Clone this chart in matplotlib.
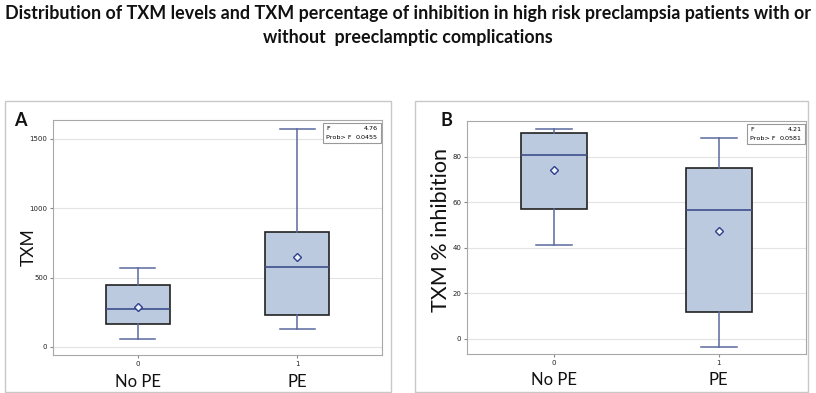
import matplotlib.pyplot as plt
from matplotlib.patches import Rectangle

title = ("Distribution of TXM levels and TXM percentage of inhibition in high risk preclampsia patients with or\n"
         "without  preeclamptic complications")
groups = ["0", "1"]
group_names = ["No PE", "PE"]

# panel A: TXM
txm_low = [55, 127]
txm_q1 = [163, 231]
txm_med = [276, 577]
txm_q3 = [445, 831]
txm_high = [572, 1574]
txm_mean = [286, 649]

# panel B: TXM % inhibition
inh_low = [41.2, -3.4]
inh_q1 = [57.1, 12.0]
inh_med = [81.0, 56.8]
inh_q3 = [90.7, 75.3]
inh_high = [92.4, 88.2]
inh_mean = [74.3, 47.6]

W, H = 816, 393
big_font = 'Lato'
fig = plt.figure(figsize=(W / 100, H / 100), dpi=100)
fig.text(0.5, 1 - 25 / H, title, ha='center', va='center', fontsize=12.9,
         family=big_font, fontweight='bold', linespacing=1.5, color='#111111')


def px(x0, y0, x1, y1):
    return [x0 / W, 1 - y1 / H, (x1 - x0) / W, (y1 - y0) / H]


def panel(frame, box, letter, lx, ly, ylabel, ylab_pos, ylab_size, lo, q1, med, q3, hi, mean,
          ylim, yticks, stat_f, stat_p):
    fig.patches.append(Rectangle((frame[0] / W, 1 - frame[3] / H),
                                 (frame[2] - frame[0]) / W, (frame[3] - frame[1]) / H,
                                 transform=fig.transFigure, fill=False,
                                 edgecolor='#c8c8c8', linewidth=1.0))
    ax = fig.add_axes(px(*box))
    stats = []
    for i in range(len(groups)):
        stats.append(dict(whislo=lo[i], q1=q1[i], med=med[i], q3=q3[i],
                          whishi=hi[i], mean=mean[i], fliers=[]))
    ax.bxp(stats, positions=[0, 1], widths=0.4, showmeans=True, patch_artist=True,
           boxprops=dict(facecolor='#bccadf', edgecolor='#222222', linewidth=1.2),
           medianprops=dict(color='#3d4f8c', linewidth=1.2),
           whiskerprops=dict(color='#5a6a9c', linewidth=1.1),
           capprops=dict(color='#5a6a9c', linewidth=1.1),
           capwidths=0.22,
           meanprops=dict(marker='D', markersize=4.5, markerfacecolor='#eef2fa',
                          markeredgecolor='#2d3f8f', markeredgewidth=1.0))
    ax.set_xlim(-0.53, 1.53)
    ax.set_ylim(*ylim)
    ax.set_yticks(yticks)
    ax.set_xticks([0, 1])
    ax.set_xticklabels(groups)
    ax.tick_params(labelsize=5, length=2.5, pad=1.5, color='#888888', labelcolor='#222222')
    ax.yaxis.grid(True, color='#e3e3e3', linewidth=0.8)
    ax.set_axisbelow(True)
    for s in ax.spines.values():
        s.set_color('#a8a8a8')
    for i, name in enumerate(group_names):
        ax.text(i, -0.135, name, transform=ax.get_xaxis_transform(), ha='center',
                va='baseline', fontsize=12, family=big_font, color='#111111')
    fig.text(ylab_pos[0] / W, 1 - ylab_pos[1] / H, ylabel, rotation=90,
             ha='center', va='center', fontsize=ylab_size, family=big_font, color='#111111')
    fig.text(lx / W, 1 - ly / H, letter, ha='center', va='center', fontsize=13,
             family=big_font, fontweight='bold', color='#111111')
    # F statistic box
    bx0, by0, bx1, by1 = box[2] - 59, box[1] + 3, box[2] - 1, box[1] + 23
    fig.patches.append(Rectangle((bx0 / W, 1 - by1 / H), (bx1 - bx0) / W, (by1 - by0) / H,
                                 transform=fig.transFigure, facecolor='white',
                                 edgecolor='#999999', linewidth=0.8, zorder=5))
    fig.text((bx0 + 3) / W, 1 - (by0 + 5.5) / H, "F", fontsize=4.6, va='center', zorder=6)
    fig.text((bx1 - 3) / W, 1 - (by0 + 5.5) / H, stat_f, fontsize=4.6, va='center',
             ha='right', zorder=6)
    fig.text((bx0 + 3) / W, 1 - (by0 + 14.5) / H, "Prob> F", fontsize=4.6, va='center', zorder=6)
    fig.text((bx1 - 3) / W, 1 - (by0 + 14.5) / H, stat_p, fontsize=4.6, va='center',
             ha='right', zorder=6)
    return ax


panel((5, 101, 391, 392), (53, 120, 382, 355), "A", 20, 120, "TXM", (29, 247), 12.5,
      txm_low, txm_q1, txm_med, txm_q3, txm_high, txm_mean,
      (-58, 1637), [0, 500, 1000, 1500], "4.76", "0.0455")
panel((415, 101, 808, 392), (467, 121, 806, 354), "B", 446, 120, "TXM % inhibition",
      (441, 230), 15.5,
      inh_low, inh_q1, inh_med, inh_q3, inh_high, inh_mean,
      (-6.6, 95.8), [0, 20, 40, 60, 80], "4.21", "0.0581")

fig.savefig("out.png", dpi=100)
